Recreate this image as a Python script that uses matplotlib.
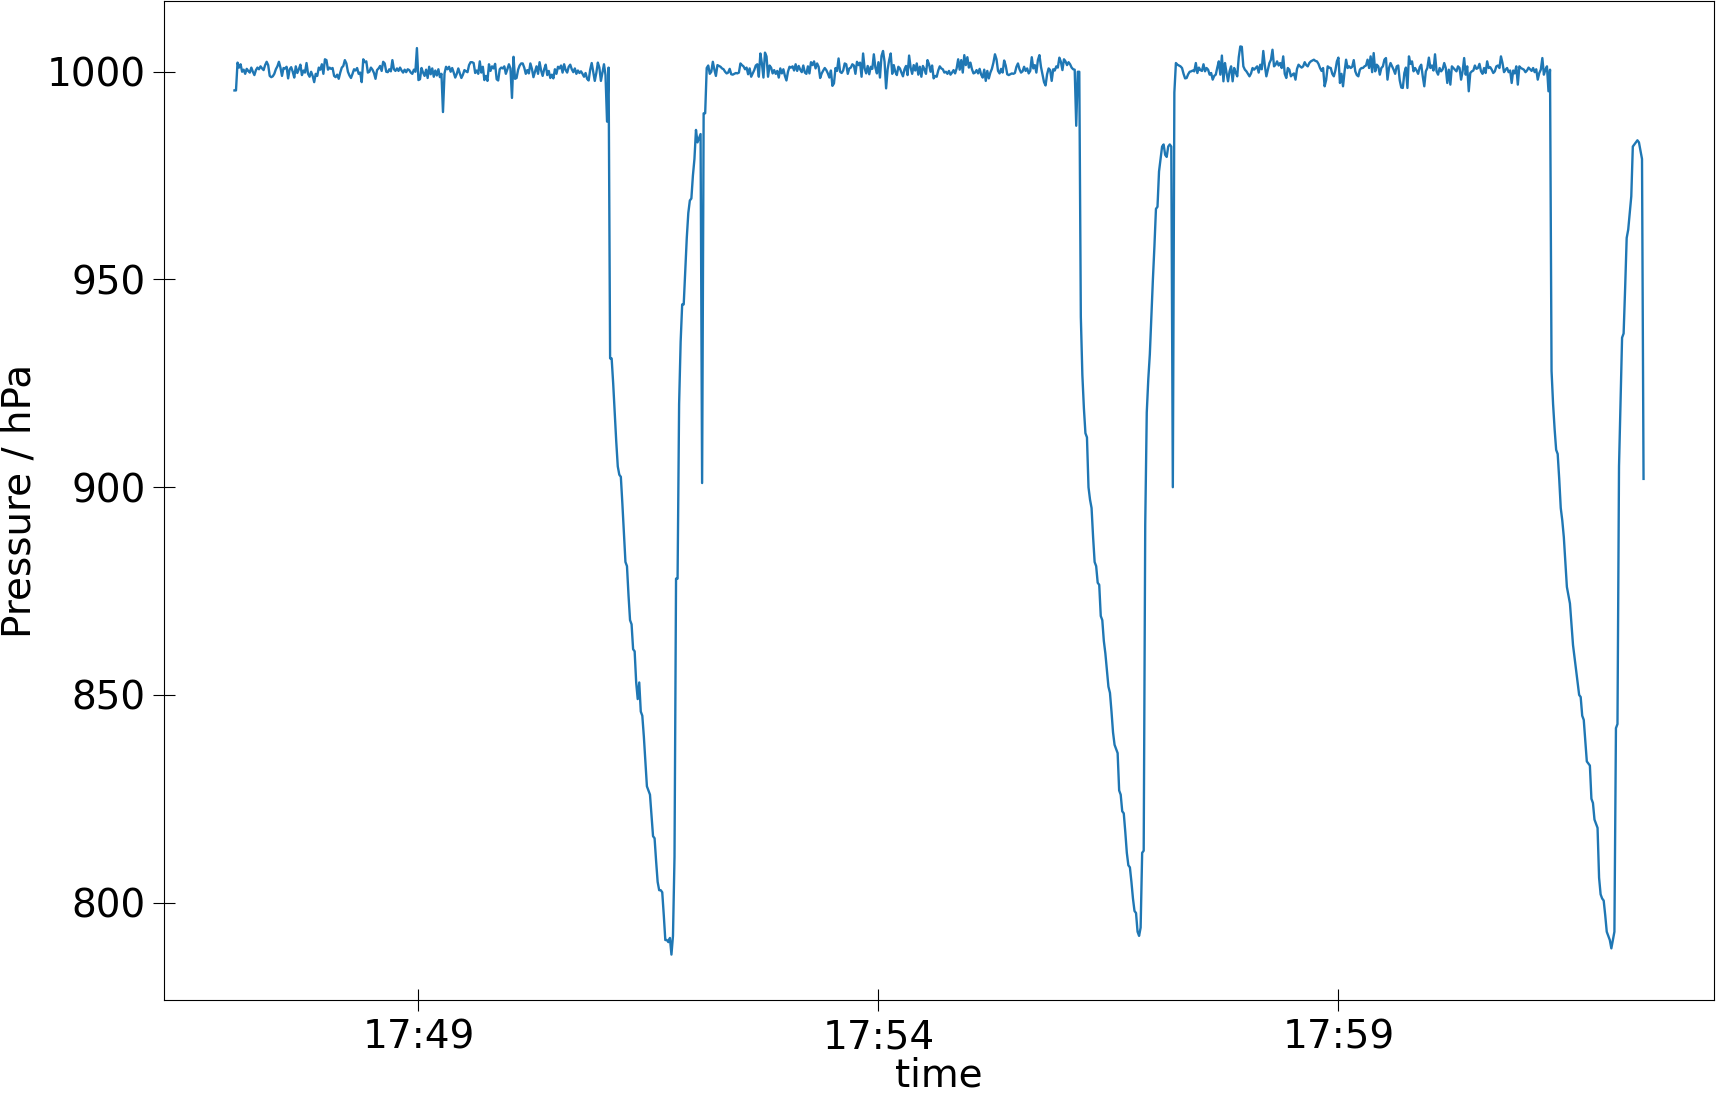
import numpy as np
import pandas as pd
import matplotlib
matplotlib.use('Agg')
import matplotlib.pyplot as plt
import matplotlib.dates as mdates

# pressure readings, one per second, starting 17:47:00
start_time = '2021-01-01 17:47:00'

plateau1 = [
    995.5, 995.5, 1002.2, 1001, 1001.8, 1000, 1000.5, 999.5, 1000.7, 1000.2,
    999.8, 1001, 1000, 999.2, 1000.4, 1001, 1000.6, 1001.3, 1000.8, 1000.4,
    1001.6, 1002.4, 1001.6, 999, 998.7, 998.9, 999.5, 1000.6, 1001.3, 1002.4,
    1001, 999, 1000.9, 1000.8, 1001.2, 998.4, 1000.6, 1001.1, 1000, 998.6,
    1001.3, 999.7, 1000.6, 1001.7, 999.2, 1000.3, 999.8, 1002.1, 999.5, 998.8,
    1000, 999, 997.5, 999.5, 999, 1001, 1000.5, 1001.8, 999.5, 1003,
    1002.8, 1000.5, 1001, 1000.7, 1000.9, 999, 998.7, 999.3, 998.3, 999.8,
    1001, 1001.4, 1002.8, 1002, 1000, 999.1, 998.5, 999.5, 1000.6, 1000.3,
    1000.9, 999.5, 999.8, 997.5, 1003, 1002.3, 1002.5, 999.8, 1000, 1001,
    1000.5, 999.7, 998.3, 1000.4, 1000.8, 1001.4, 1000.2, 1002.4, 1002, 1000,
    999.9, 1000.6, 1000.1, 1002.8, 1000.6, 1000.2, 1000.8, 1000.2, 1001, 1000.3,
    999.8, 1000.5, 999.9, 1000.6, 1000.4, 999.8, 999.5, 1000.5, 1000, 1005.7,
    998, 998.2, 1000.9, 999.8, 999, 1000.5, 998.5, 1001.2, 999.4, 1000.8,
    998.8, 1000.3, 999.1, 1000.6, 998.7, 999.5, 990.3, 999.6, 1001.2, 1000.6,
    1001.2, 1000, 1000.9, 999.8, 998.6, 999.5, 1000.8, 999.6, 998.5, 999.3,
    1000.4, 1000.1, 999.9, 1001.6, 1002.3, 1002.3, 1002.1, 999.7, 1000.3, 999.5,
    1002.5, 999.8, 1001.2, 998, 999, 997.8, 1001.8, 1000.2, 1001.3, 1000.8,
    1001.9, 998.2, 997.9, 1000.6, 1001, 1000.8, 1001.3, 999.5, 1000.6, 1001.8,
    1000.8, 993.7, 1003.6, 998.3, 998.5, 1000.5, 1001.5, 1002, 1002, 1001,
    999.5, 1000.4, 999.6, 1002, 1000.7, 998.7, 1000, 1001.3, 999.5, 1002.3,
    1000.3, 999, 1000.6, 1001.7, 999.2, 1000.2, 998.5, 999.3, 998.4, 1000.6,
    999.5, 1001.2, 1000.8, 1001.5, 999.8, 1001.8, 1000.4, 999.8, 1001.2, 1001.7,
    1000.6, 999.9, 1000.8, 999.5, 1000.3, 999.7, 1000.1, 999.5, 998.8, 999.7,
    998.3, 997.9, 1000.5, 1002.1, 1000, 997.8, 999.7, 1002.2, 1001, 997.8,
    999.8, 1001.8, 999.2, 988, 1001,
]

dip1 = [
    931, 931, 925, 918, 911, 905, 903, 902.5, 896, 889,
    882, 881, 874, 868, 867, 861, 860.5, 853, 849, 853,
    846, 845, 840, 834, 828, 827, 826, 821, 816, 815.5,
    810, 805, 803, 803, 802.5, 797, 791, 791, 790.5, 791.5,
    787.5, 792, 811, 878, 878, 920, 935, 944, 944, 952,
    960, 966, 969, 969.5, 975, 979, 986, 983, 984, 985,
    901, 990, 990,
]

plateau2 = [
    1000.9, 1001.5, 999.5, 1000, 1002.4, 1000.5, 999, 1001.6, 1001.4, 1001.2,
    1000.8, 1000.6, 1000, 999.6, 999.8, 1000.7, 999.4, 999.3, 999.5, 999.7,
    999.6, 999.8, 1002, 1001.6, 1001.3, 1000.6, 1001, 999.4, 1000.8, 998.8,
    999.6, 1000.4, 1001.5, 1001.8, 998.8, 1004.4, 1002, 998.6, 1004.6, 1003.7,
    998.8, 1001.5, 1001, 999.6, 1000.4, 999.5, 1000.2, 998.6, 1000.8, 999.6,
    1000.6, 999, 997.9, 1000, 1001.2, 1001, 1001.3, 1000.3, 1001.8, 1000.2,
    1001.4, 1000.5, 999.9, 1001.5, 999.8, 999.5, 1001.3, 999.6, 1002.3, 1001.6,
    1002.5, 1000.8, 1002, 1001.2, 998.5, 999.6, 1000.3, 1000.9, 1000.4, 999.6,
    998.6, 1000.3, 996.6, 997.2, 1000.9, 1000.2, 1003.2, 1000, 999.7, 1000.3,
    1002, 1001.8, 999.5, 1000.8, 1001, 1001.8, 1001.5, 999.5, 1002.4, 1001.6,
    1002.2, 998.8, 1004.4, 1000.8, 999.6, 1001.4, 999.4, 1001.2, 1000.7, 1004.2,
    1001, 999.6, 1002.3, 998.6, 1003.8, 1005, 1002.4, 996, 1000.6, 1002.8,
    1004.4, 999.5, 1001.6, 1000, 999.2, 1001.2, 1000.8, 999.8, 998.9, 1000.6,
    1001.4, 999.2, 1003.9, 1001, 999.5, 1001.6, 1000.3, 1002, 999.3, 1001.2,
    998.8, 1001.4, 1000.6, 999.5, 1002.8, 1001.8, 1000, 1001.5, 998.4, 999,
    998.8, 1000.3, 1001.3, 1000.8, 1000.6, 999.8, 1000, 999.5, 1000.2, 999.3,
    999.8, 1000.4, 999.6, 1000.8, 1003, 1000.5, 1002.8, 999.8, 1004, 1001.6,
    1003.5, 1001, 1002.2, 1000.6, 999.6, 999.8, 1000.4, 999.6, 1000.7, 999.3,
    998.6, 1000.5, 997.8, 1000.2, 998.4, 999.8, 1000.7, 1002.2, 1004.2, 1003,
    1000.2, 999.6, 1000.7, 999.8, 1002.7, 1001.5, 999.4, 999.2, 999.4, 999.6,
    999.5, 999.7, 1001.2, 1002, 1000.6, 999.8, 1000.1, 1001.2, 1000.2, 1000.8,
    999.6, 1000.2, 1003.5, 1000.8, 1001.6, 999.8, 1002.8, 1004, 1001.2, 999.3,
    997.5, 996.7, 999.4, 1000.8, 1000.4, 997.8, 1000.6, 1000.3, 1001.3, 1001,
    1003.4, 1002.4, 1000.4, 1003, 1002.5, 1001.6, 1002.3, 1001.8, 1001, 1000.6,
    1000.5, 987, 1000, 1000,
]

dip2 = [
    941, 927, 919, 913, 912, 900, 897, 895, 888, 882,
    881, 877, 876.5, 869, 868, 863, 860, 856, 852, 850.5,
    846, 841, 838, 837, 836, 827, 826, 822, 821.5, 817,
    812, 809, 808.5, 805, 801, 798, 797.5, 793, 792, 794,
    812, 812.5, 891, 918, 926, 932, 941, 950, 958, 967,
    967.5, 976, 979, 982, 982.5, 980, 979.5, 982, 982.5, 982,
    900, 995,
]

plateau3 = [
    1002.1, 1001.7, 1001.5, 1001.3, 1000.9, 999.5, 998.4, 998.5, 999.4, 1000,
    1000.1, 1000.3, 1000.1, 1002.1, 999.7, 1001, 1000.4, 1000.2, 1001.8, 1000.1,
    1000.9, 1000.5, 999.3, 999.7, 998.1, 999, 999.3, 1001, 1002.5, 999.3,
    1003.9, 997.7, 1002.1, 999.8, 997.7, 1000.1, 1001.3, 997.7, 1000.9, 999.8,
    998.9, 1003.5, 1006.1, 1006, 1001.3, 1000.5, 1000.1, 999.5, 998.9, 999.6,
    1000.9, 1000.5, 1000.9, 1001.3, 999.8, 1001.7, 1000.6, 1005, 1001.5, 998.9,
    1000.5, 1002.1, 1002.9, 1005.3, 1001.3, 1001.7, 1002.5, 1001.5, 1002.1, 1000.9,
    1003.7, 999.5, 998.5, 1000.9, 1000.5, 998.9, 999.3, 999.6, 998.1, 1000.7,
    1001.7, 1001.3, 1001, 1001.3, 1002.3, 1001.6, 1001.3, 1002.1, 1002.5, 1002.7,
    1002.9, 1002.6, 1002.5, 1001.9, 1000.9, 1000.2, 1000.9, 996.5, 998, 1001.3,
    1001, 1000.9, 999.5, 998.9, 1000.3, 1002.5, 1003.4, 997.3, 999.5, 996.5,
    1000, 1002.9, 1000.9, 1001.3, 1000.9, 1001.2, 1002.8, 1000.1, 999.2, 998.9,
    1000.5, 1000.9, 1000.9, 1001.3, 1001.5, 1002.9, 1000.9, 1003.7, 999.9, 1004.5,
    1000.1, 1001.7, 1001.3, 999.3, 1000.9, 1001.3, 1002.9, 1003.3, 998.1, 1000.9,
    1002.1, 1001.3, 1000.5, 999.5, 1001.3, 1001.5, 997.9, 996.2, 996.1, 999.7,
    1001, 996.1, 1003.7, 1001.9, 1002.5, 1000.1, 1000.9, 1000.3, 999.5, 1001.1,
    1001.7, 998.9, 996.5, 1000.1, 1000.9, 1003.4, 1000.9, 1001.5, 1000.3, 1004.2,
    1000.1, 999.3, 1000.9, 1000.1, 1000.6, 1002.1, 1000.9, 997.3, 1000.5, 996.9,
    1001.3, 1000.9, 1000.5, 1000.1, 1001.3, 1000.9, 998.1, 1000.1, 1003.3, 999.3,
    1001.3, 995.3, 999.7, 1000.1, 1000.3, 1001.5, 1000.7, 1000.9, 1001.9, 1000.1,
    999.5, 1000.9, 999.7, 1002.5, 1000.9, 1001.1, 1000.5, 999.7, 1000.1, 1001.3,
    1001.5, 1000.9, 1003.7, 1002.1, 999.9, 1000.5, 1000.9, 999.9, 1000.3, 997.3,
    1000.3, 999.6, 1001.3, 996.9, 1001.3, 1000.9, 1000.7, 1000.5, 999.9, 1000.3,
    1001, 1000.6, 1000.2, 1000.9, 999.9, 1000.6, 998.1, 999.7, 1000.5, 1003.3,
    999.3, 1000.5, 1001.3, 995.3, 1000.5,
]

dip3 = [
    928, 920, 914, 909, 908, 902, 895, 892, 888, 882,
    876, 874, 872, 867, 862, 859, 856, 853, 850, 849.5,
    845, 844, 839, 834, 833.5, 833, 825, 824, 820, 819,
    818, 806, 802, 801, 800.5, 797, 793, 792, 791, 789,
    791, 793, 842, 843, 905, 920, 936, 937, 948, 960,
    962, 966, 970, 982, 982.5, 983, 983.5, 983, 981, 979,
    902,
]

pressure = plateau1 + dip1 + plateau2 + dip2 + plateau3 + dip3
time = pd.date_range(start_time, periods=len(pressure), freq='s')

plt.rcParams['font.family'] = 'DejaVu Sans'
plt.rcParams['font.size'] = 28

fig = plt.figure(figsize=(17.16, 10.97), dpi=100)
ax = fig.add_axes([164 / 1716, 97 / 1097, 1550 / 1716, 999 / 1097])
ax.plot(time, pressure, color='#1f77b4', linewidth=1.7)

ax.xaxis.set_major_locator(mdates.MinuteLocator(byminute=[49, 54, 59]))
ax.xaxis.set_major_formatter(mdates.DateFormatter('%H:%M'))
ax.tick_params(direction='inout', length=16, labelsize=28, pad=5)

ax.set_xlabel('time', labelpad=0)
ax.set_ylabel('Pressure / hPa', labelpad=6)

fig.savefig('out.png', dpi=100)
